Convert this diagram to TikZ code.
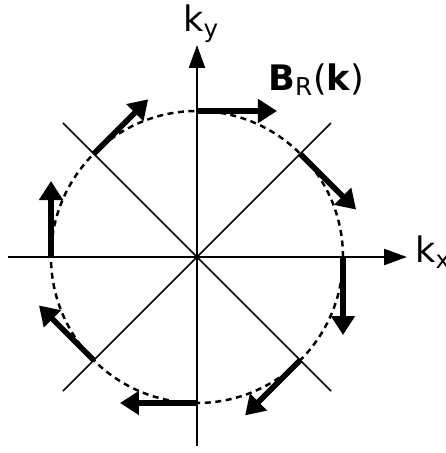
\documentclass[tikz,border=0pt]{standalone}
\usepackage{fontspec}
\setmainfont{DejaVu Sans}
\usetikzlibrary{arrows.meta}

\begin{document}
\begin{tikzpicture}[
    axis/.style={line width=1.3pt, -{Triangle[length=0.46cm,width=0.32cm]}},
    diag/.style={line width=1pt},
    vec/.style={line width=3.2pt, -{Triangle[length=0.38cm,width=0.46cm]}},
    lbl/.style={inner sep=0pt, anchor=base west, font=\fontsize{20}{24}\selectfont}]
  \useasboundingbox (-3.94,-3.92) rectangle (4.98,5.14);
  \coordinate (O) at (0,0);
  \coordinate (xa) at (-3.78,0);
  \coordinate (xb) at (4.2,0);
  \coordinate (ya) at (0,-3.78);
  \coordinate (yb) at (0,4.24);
  % circle of momenta
  \draw [line width=1.4pt, dash pattern=on 3.4pt off 2.6pt] (O) circle (2.92);
  \draw [diag]    (-2.68,2.68) -- (2.68,-2.68);
  \draw [diag]    (-2.68,-2.68) -- (2.68,2.68);
  \draw [axis]    (xa) -- (xb);
  \draw [axis]    (ya) -- (yb);
  % field vectors, clockwise
  \coordinate (p1) at (90:2.92);
  \coordinate (p2) at (45:2.92);
  \coordinate (p3) at (0:2.92);
  \coordinate (p4) at (-45:2.92);
  \coordinate (p5) at (-90:2.92);
  \coordinate (p6) at (-135:2.92);
  \coordinate (p7) at (180:2.92);
  \coordinate (p8) at (135:2.92);
  \draw [vec]    (p1) -- ++(0:1.6);
  \draw [vec]    (p2) -- ++(-45:1.58);
  \draw [vec]    (p3) -- ++(-90:1.56);
  \draw [vec]    (p4) -- ++(-135:1.56);
  \draw [vec]    (p5) -- ++(180:1.54);
  \draw [vec]    (p6) -- ++(135:1.55);
  \draw [vec]    (p7) -- ++(90:1.52);
  \draw [vec]    (p8) -- ++(45:1.54);
  \node [lbl] (kx) at (4.36,-0.12) {k\textsubscript{x}};
  \node [lbl] (ky) at (-0.28,4.5) {k\textsubscript{y}};
  \node [lbl] (BR) at (1.42,3.34) {\textbf{B}\textsubscript{R}(\textbf{k})};
\end{tikzpicture}
\end{document}
